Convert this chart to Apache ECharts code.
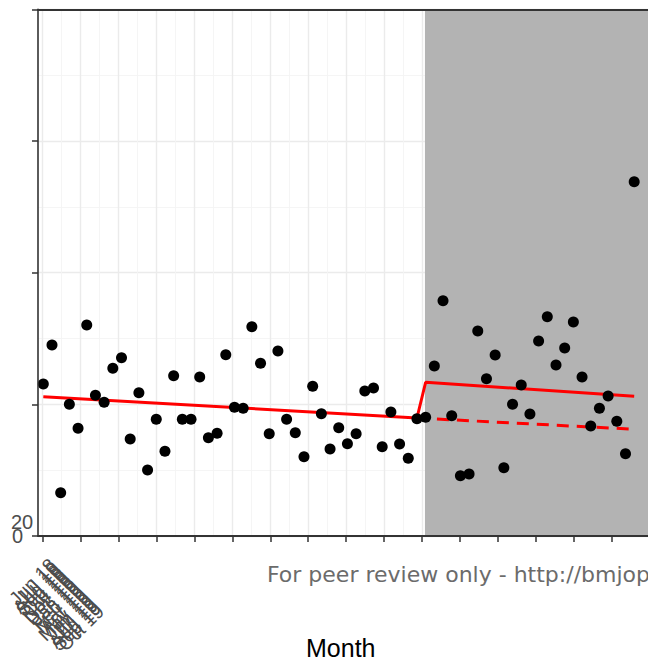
<!DOCTYPE html>
<html><head><meta charset="utf-8">
<script src="https://cdn.jsdelivr.net/npm/echarts@6/dist/echarts.min.js"></script>
<style>html,body{margin:0;padding:0;background:#fff}#c{width:648px;height:662px}</style>
</head><body><div id="c"></div>
<script>
// week index of each observation
const weeks = [0,1,2,3,4,5,6,7,8,9,10,11,12,13,14,15,16,17,18,19,20,21,22,23,24,25,26,27,28,29,30,31,32,33,34,35,36,37,38,39,40,41,42,43,44,45,46,47,48,49,50,51,52,53,54,55,56,57,58,59,60,61,62,63,64,65,66,67,68];
// observed values
const counts = [23.09,29.01,6.58,20.01,16.36,32.05,21.37,20.31,25.47,27.08,14.73,21.77,10.03,17.73,12.87,24.35,17.73,17.73,24.15,14.93,15.60,27.54,19.55,19.40,31.79,26.23,15.54,28.10,17.73,15.69,12.05,22.74,18.58,13.22,16.45,14.02,15.54,22.03,22.48,13.57,18.84,13.98,11.80,17.82,
18.03,25.82,35.74,18.27,9.16,9.42,31.14,23.89,27.49,10.38,20.01,22.94,18.53,29.62,33.31,25.98,28.56,32.51,24.15,16.71,19.40,21.27,17.42,12.50,53.82];
// segmented regression fit (solid) and counterfactual (dashed)
const fitWeeks = [0,43,44,68];
const fitValues = [21.16,17.92,23.35,21.22];
const cfWeeks = [43,68];
const cfValues = [17.92,16.21];
// month ticks (in weeks) and labels
const monthTickWeeks = [-0.07,4.30,8.66,13.02,17.39,21.75,26.12,30.48,34.85,39.21,43.58,47.94,52.31,56.67,61.04,65.40,69.77];
const monthMinorWeeks = [2.11,6.48,10.84,15.21,19.57,23.94,28.30,32.67,37.03,41.40,45.76,50.13,54.49,58.86,63.22,67.59];
const monthLabels = ['Jun 18','Jul 18','Aug 18','Sep 18','Oct 18','Nov 18','Dec 18','Jan 19','Feb 19','Mar 19','Apr 19','May 19','Jun 19','Jul 19','Aug 19','Sep 19','Oct 19'];
const yTickValues = [0,20,40,60,80];
const interventionStart = 43.92;
const xMin = -0.61, xMax = 70.97;

const chart = echarts.init(document.getElementById('c'), null, {renderer:'svg'});
const axisDark = '#333333';
const graphics = [];
monthLabels.forEach((t,k)=>{
  graphics.push({type:'text', x: 46 + k*3.0, y: 555 + k*2.9, rotation: Math.PI/4, z: 20,
    style:{text:t, font:'19px "Liberation Sans", Arial, sans-serif', fill:'#4d4d4d', textAlign:'right', textVerticalAlign:'top'}});
});
graphics.push({type:'text', left: 11, top: 512, z:20, style:{text:'20', font:'20px "Liberation Sans", Arial, sans-serif', fill:'#4d4d4d'}});
graphics.push({type:'text', left: 267, top: 563, z:20, style:{text:'For peer review only - http://bmjopen.bmj.com/site/about/guidelines.xhtml', font:'22px "DejaVu Sans", sans-serif', fill:'#6b6b6b'}});
graphics.push({type:'text', left: 306, top: 635, z:20, style:{text:'Month', font:'25px "Liberation Sans", Arial, sans-serif', fill:'#000'}});

chart.setOption({
  animation:false,
  backgroundColor:'#ffffff',
  grid:{left:38, top:9.3, width:622, height:526.7, containLabel:false, outerBoundsMode:'none'},
  xAxis:[
    {type:'value', min:xMin, max:xMax, position:'bottom', offset:3, z:10,
     axisLine:{show:true, lineStyle:{color:axisDark, width:1.8}},
     axisTick:{show:true, length:6, customValues: monthTickWeeks, lineStyle:{color:axisDark, width:1.5}},
     axisLabel:{show:false}, splitLine:{show:false}},
    {type:'value', min:xMin, max:xMax, position:'top', z:10,
     axisLine:{show:true, onZero:false, lineStyle:{color:axisDark, width:1.8}},
     axisTick:{show:false}, axisLabel:{show:false}, splitLine:{show:false}}
  ],
  yAxis:[
    {type:'value', min:0, max:80, interval:20, position:'left', z:0,
     axisLine:{show:false}, axisTick:{show:false}, axisLabel:{show:false},
     splitLine:{show:true, lineStyle:{color:'#ebebeb', width:1.4}},
     minorTick:{show:false, splitNumber:2},
     minorSplitLine:{show:true, lineStyle:{color:'#f4f4f4', width:0.9}}},
    {type:'value', min:0, max:80, interval:20, position:'left', z:10,
     axisLine:{show:true, onZero:false, lineStyle:{color:axisDark, width:1.6}},
     axisTick:{show:true, length:6, lineStyle:{color:axisDark, width:1.5}},
     axisLabel:{show:true, customValues:[0], margin:26, align:'left', fontSize:20, color:'#4d4d4d', fontFamily:'Liberation Sans'},
     splitLine:{show:false}}
  ],
  graphic: graphics,
  series:[
    {type:'line', data:[], z:1, silent:true,
     markLine:{z:1, silent:true, symbol:['none','none'], label:{show:false}, animation:false,
       lineStyle:{color:'#ebebeb', width:1.4, type:'solid'},
       data: monthTickWeeks.map(v=>({xAxis:v}))}},
    {type:'line', data:[], z:1, silent:true,
     markLine:{z:1, silent:true, symbol:['none','none'], label:{show:false}, animation:false,
       lineStyle:{color:'#f4f4f4', width:0.9, type:'solid'},
       data: monthMinorWeeks.map(v=>({xAxis:v}))}},
    {type:'line', data:[], z:2, silent:true,
     markArea:{z:2, silent:true, itemStyle:{color:'#b3b3b3', opacity:1}, label:{show:false},
       data:[[{xAxis:interventionStart},{xAxis:xMax}]]}},
    {type:'line', z:3, data: fitWeeks.map((w,i)=>[w,fitValues[i]]), symbol:'none',
     lineStyle:{color:'#ff0000', width:3}},
    {type:'line', z:3, data: cfWeeks.map((w,i)=>[w,cfValues[i]]), symbol:'none',
     lineStyle:{color:'#ff0000', width:3, type:[12,8]}},
    {type:'scatter', z:4, data: weeks.map((w,i)=>[w,counts[i]]), symbolSize:11,
     itemStyle:{color:'#000000', opacity:1}}
  ]
});
</script>
</body></html>
